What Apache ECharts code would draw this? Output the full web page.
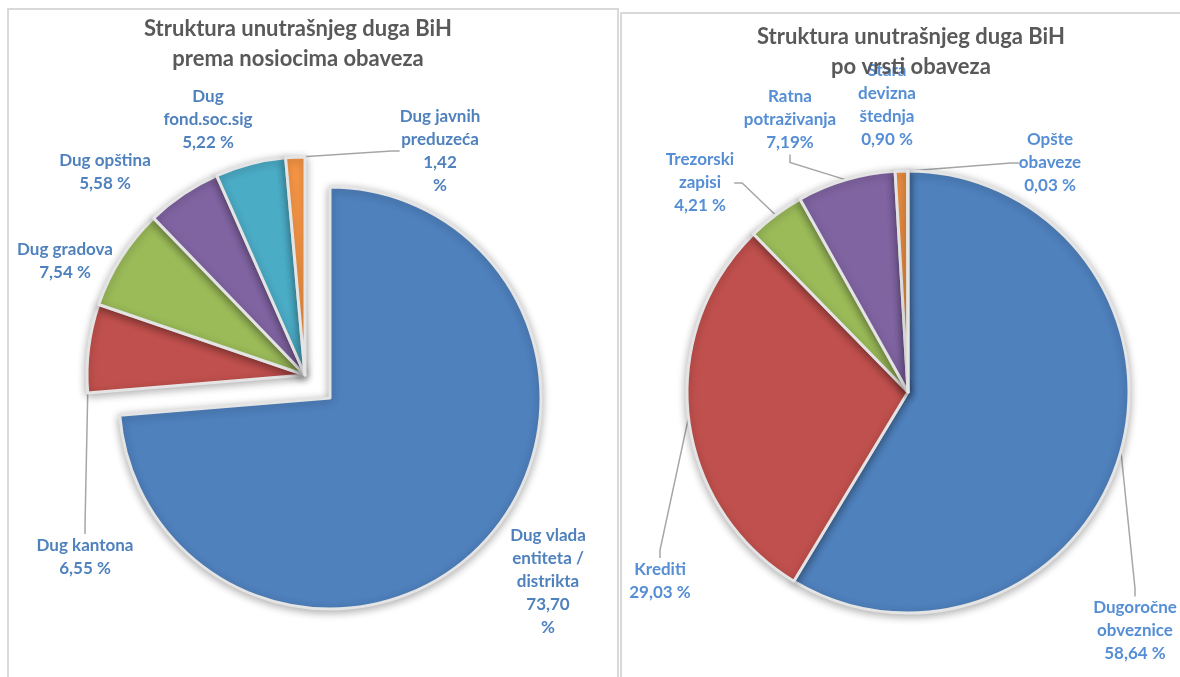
<!DOCTYPE html>
<html><head><meta charset="utf-8">
<script src="https://cdn.jsdelivr.net/npm/echarts@6/dist/echarts.min.js"></script>
<style>html,body{margin:0;padding:0;background:#fff}#c{width:1180px;height:677px}</style>
</head><body><div id="c"></div>
<script>
// Left chart: by holder of obligation
const holderNames = ['Dug vlada\nentiteta /\ndistrikta', 'Dug kantona', 'Dug gradova', 'Dug opština', 'Dug\nfond.soc.sig', 'Dug javnih\npreduzeća'];
const holderValues = [73.70, 6.55, 7.54, 5.58, 5.22, 1.42];
const holderPctText = ['73,70\n%', '6,55 %', '7,54 %', '5,58 %', '5,22 %', '1,42\n%'];

// Right chart: by type of obligation
const typeNames = ['Dugoročne\nobveznice', 'Krediti', 'Trezorski\nzapisi', 'Ratna\npotraživanja', 'Stara\ndevizna\nštednja', 'Opšte\nobaveze'];
const typeValues = [58.64, 29.03, 4.21, 7.19, 0.90, 0.03];
const typePctText = ['58,64 %', '29,03 %', '4,21 %', '7,19%', '0,90 %', '0,03 %'];

// styling / layout
const leftColors = ['#4F81BD', '#C0504D', '#9BBB59', '#8064A2', '#4BACC6', '#F79646'];
const rightColors = ['#4F81BD', '#C0504D', '#9BBB59', '#8064A2', '#F79646', '#4BACC6'];
const leftLabelPos = [[548, 582], [85, 557], [65, 261], [105, 172], [208, 120], [440, 151]];
const rightLabelPos = [[1135, 631], [660, 581], [700, 183], [790, 120], [887, 105], [1050, 163]];
const leftLeader = [false, true, false, false, false, true];
const rightLeader = [true, true, true, true, false, true];
const FONT = 'Lato, "Open Sans", sans-serif';
const LEFT_CENTER = [305, 375];
const EXPLODE = 34;          // explosion of the first (largest) slice, px
const EXPLODED_INDEX = 0;

const shadowStyle = { borderColor: '#e4e4e4', borderWidth: 3, shadowBlur: 8, shadowOffsetY: 2, shadowColor: 'rgba(0,0,0,0.3)' };
const hiddenStyle = { color: 'rgba(0,0,0,0)', borderWidth: 0, shadowBlur: 0, shadowColor: 'rgba(0,0,0,0)' };

function buildData(names, values, pct, colors, leader, visibleFn) {
  return names.map((n, i) => {
    const vis = visibleFn(i);
    return {
      name: n, value: values[i], pct: pct[i],
      itemStyle: vis ? { color: colors[i] } : hiddenStyle,
      label: { show: vis },
      labelLine: { show: vis && leader[i] }
    };
  });
}

// centre of the exploded slice, from its mid angle
const totalLeft = holderValues.reduce((a, b) => a + b, 0);
let before = 0;
for (let i = 0; i < EXPLODED_INDEX; i++) before += holderValues[i];
const midFrac = (before + holderValues[EXPLODED_INDEX] / 2) / totalLeft;
const midAng = (90 - midFrac * 360) * Math.PI / 180;
const explodedCenter = [LEFT_CENTER[0] + Math.cos(midAng) * EXPLODE, LEFT_CENTER[1] - Math.sin(midAng) * EXPLODE];

const leftRest = buildData(holderNames, holderValues, holderPctText, leftColors, leftLeader, i => i !== EXPLODED_INDEX);
const leftMain = buildData(holderNames, holderValues, holderPctText, leftColors, leftLeader, i => i === EXPLODED_INDEX);
const rightData = buildData(typeNames, typeValues, typePctText, rightColors, rightLeader, () => true);

function makeLabel(color) {
  return {
    show: true, position: 'outside',
    formatter: p => p.name + '\n' + p.data.pct,
    color: color, fontFamily: FONT, fontSize: 17, fontWeight: 'bold',
    lineHeight: 23, align: 'center'
  };
}
const labelLineCfg = { show: true, length: 10, length2: 8, smooth: false, lineStyle: { color: '#a6a6a6', width: 1.5 } };
const layoutFrom = pos => (p => ({ x: pos[p.dataIndex][0], y: pos[p.dataIndex][1], align: 'center', verticalAlign: 'middle' }));

const pieBase = {
  type: 'pie', startAngle: 90, clockwise: true, avoidLabelOverlap: false,
  itemStyle: shadowStyle, labelLine: labelLineCfg, emphasis: { disabled: true }, selectedMode: false
};

const chart = echarts.init(document.getElementById('c'), null, { renderer: 'canvas' });
chart.setOption({
  animation: false,
  backgroundColor: '#fff',
  graphic: [
    { type: 'rect', shape: { x: 8, y: 9, width: 610, height: 700 }, style: { fill: 'none', stroke: '#d9d9d9', lineWidth: 2 }, silent: true, z: -10 },
    { type: 'rect', shape: { x: 621, y: 13, width: 600, height: 700 }, style: { fill: 'none', stroke: '#d9d9d9', lineWidth: 2 }, silent: true, z: -10 }
  ],
  title: [
    { text: 'Struktura unutrašnjeg duga BiH\nprema nosiocima obaveza', left: 293, top: 9, textAlign: 'center',
      textStyle: { fontFamily: FONT, fontSize: 22, fontWeight: 'bold', color: '#595959', lineHeight: 30 } },
    { text: 'Struktura unutrašnjeg duga BiH\npo vrsti obaveza', left: 906, top: 17, textAlign: 'center',
      textStyle: { fontFamily: FONT, fontSize: 22, fontWeight: 'bold', color: '#595959', lineHeight: 30 } }
  ],
  series: [
    Object.assign({}, pieBase, {
      center: LEFT_CENTER, radius: 218,
      label: makeLabel('#4F81BD'), labelLayout: layoutFrom(leftLabelPos),
      data: leftRest
    }),
    Object.assign({}, pieBase, {
      center: explodedCenter, radius: 211,
      label: makeLabel('#4F81BD'), labelLayout: layoutFrom(leftLabelPos),
      data: leftMain
    }),
    Object.assign({}, pieBase, {
      center: [908, 392], radius: 221,
      label: makeLabel('#558ED5'), labelLayout: layoutFrom(rightLabelPos),
      data: rightData
    })
  ]
});
</script></body></html>
